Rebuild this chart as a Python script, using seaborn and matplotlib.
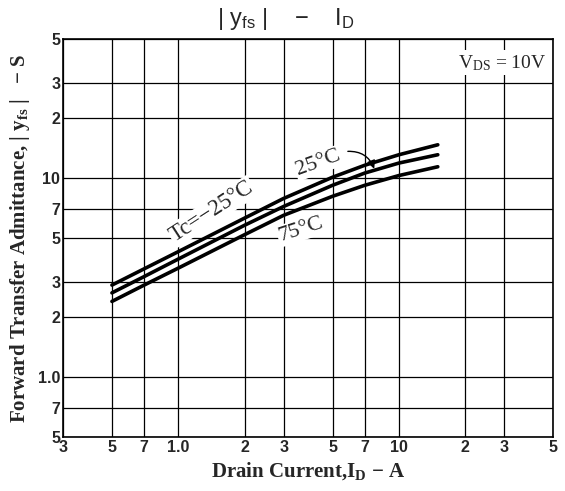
import numpy as np
import pandas as pd
import seaborn as sns
import matplotlib.pyplot as plt

sns.set_theme(style="white")
plt.rcParams['font.family'] = ['Liberation Serif', 'DejaVu Serif']
plt.rcParams['mathtext.default'] = 'regular'

# drain current (A) and |yfs| (S)
drain_current = [0.5, 0.7, 1.0, 2.0, 3.0, 5.0, 7.0, 10.0, 15.0]
yfs_m25 = [2.9, 3.5, 4.27, 6.3, 7.9, 10.1, 11.6, 13.1, 14.7]
yfs_25 = [2.65, 3.2, 3.92, 5.8, 7.2, 9.2, 10.6, 11.9, 13.1]
yfs_75 = [2.4, 2.9, 3.53, 5.2, 6.5, 8.1, 9.2, 10.3, 11.4]

x_ticks = [0.3, 0.5, 0.7, 1, 2, 3, 5, 7, 10, 20, 30, 50]
x_labels = ["3", "5", "7", "1.0", "2", "3", "5", "7", "10", "2", "3", "5"]
y_ticks = [0.5, 0.7, 1, 2, 3, 5, 7, 10, 20, 30, 50]
y_labels = ["5", "7", "1.0", "2", "3", "5", "7", "10", "2", "3", "5"]

df = pd.DataFrame({
    "ID": drain_current * 3,
    "yfs": yfs_m25 + yfs_25 + yfs_75,
    "Tc": ["-25"] * 9 + ["25"] * 9 + ["75"] * 9,
})

fig = plt.figure(figsize=(5.65, 4.91), dpi=100)
ax = fig.add_axes([0.1115, 0.110, 0.8675, 0.8106])

sns.lineplot(data=df, x="ID", y="yfs", hue="Tc", palette=["black"] * 3,
             linewidth=2.6, legend=False, ax=ax)

ax.set_xscale("log")
ax.set_yscale("log")
ax.set_xlim(0.3, 50)
ax.set_ylim(0.5, 50)
ax.set_xticks(x_ticks)
ax.set_xticklabels(x_labels)
ax.set_yticks(y_ticks)
ax.set_yticklabels(y_labels)
ax.minorticks_off()
ax.grid(True, which="major", color="black", linewidth=0.9)
ax.tick_params(length=0, pad=2)
for lab in ax.get_xticklabels() + ax.get_yticklabels():
    lab.set_family(["Liberation Sans", "DejaVu Sans"])
    lab.set_fontweight("bold")
    lab.set_fontsize(11.5)
for s in ax.spines.values():
    s.set_color("black")
    s.set_linewidth(1.2)

ax.set_xlabel("Drain Current,I$_D$ − A", fontsize=15, fontweight="bold", labelpad=4)
ax.set_ylabel("Forward Transfer Admittance, | y$_{fs}$ |   − S", fontsize=15,
              fontweight="bold", labelpad=4)
# title sits a bit left of the axes centre in the original
fig.text(0.505, 0.962, "| y$_{fs}$ |    −    I$_D$", fontsize=17,
         ha="center", va="center", family=["Liberation Sans", "DejaVu Sans"])

box = dict(facecolor="white", edgecolor="none", pad=1)
ax.text(1.42, 6.8, "Tc=−25°C", fontsize=16.5, rotation=33,
        ha="center", va="center", bbox=box)
ax.text(4.3, 11.9, "25°C", fontsize=16, rotation=20,
        ha="center", va="center", bbox=box)
ax.text(3.6, 5.5, "75°C", fontsize=16, rotation=18,
        ha="center", va="center", bbox=box)
ax.annotate("", xy=(7.8, 10.8), xytext=(5.7, 13.6),
            arrowprops=dict(arrowstyle="-|>", color="black", lw=1,
                            connectionstyle="arc3,rad=-0.4"))
ax.text(0.985, 0.965, "V$_{DS}$ = 10V", transform=ax.transAxes, fontsize=14,
        ha="right", va="top", bbox=dict(facecolor="white", edgecolor="none", pad=2))

plt.savefig("out.png", dpi=100)
